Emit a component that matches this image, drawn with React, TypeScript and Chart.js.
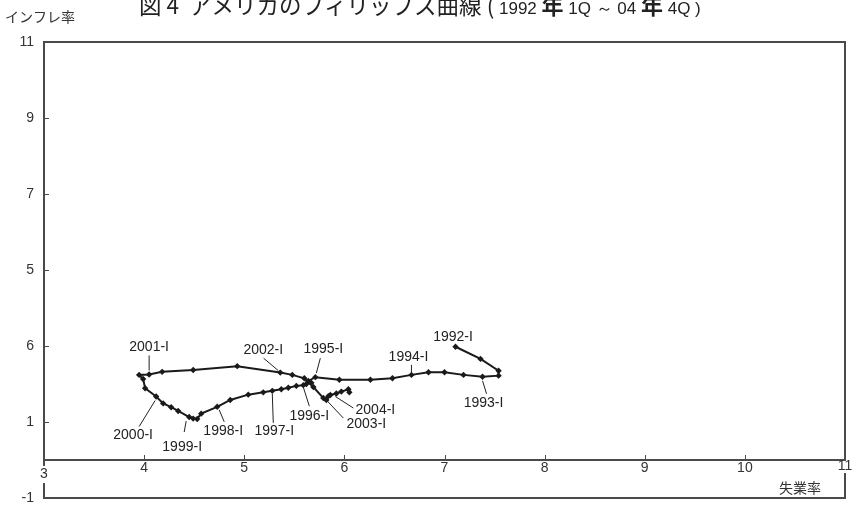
import React, { useEffect, useRef } from "react";
import { Chart, registerables } from "chart.js";

Chart.register(...registerables);

// ---- data ----
const years = [1992, 1993, 1994, 1995, 1996, 1997, 1998, 1999, 2000, 2001, 2002, 2003, 2004];
const quarterNames = ["I", "II", "III", "IV"];

const unemployment = [
  7.11, 7.36, 7.54, 7.54,
  7.38, 7.19, 7.0, 6.84,
  6.67, 6.48, 6.26, 5.95,
  5.71, 5.64, 5.67, 5.62,
  5.59, 5.52, 5.44, 5.37,
  5.28, 5.19, 5.04, 4.86,
  4.73, 4.57, 4.53, 4.49,
  4.45, 4.34, 4.27, 4.19,
  4.12, 4.01, 3.99, 3.95,
  4.05, 4.18, 4.49, 4.93,
  5.36, 5.48, 5.6, 5.69,
  5.79, 5.82, 5.84, 5.86,
  5.92, 5.97, 6.04, 6.05,
];

const inflation = [
  2.98, 2.66, 2.35, 2.22,
  2.19, 2.24, 2.31, 2.31,
  2.24, 2.15, 2.11, 2.11,
  2.18, 2.08, 2.03, 2.0,
  1.97, 1.95, 1.9, 1.86,
  1.82, 1.78, 1.72, 1.58,
  1.4, 1.22, 1.08, 1.09,
  1.13, 1.29, 1.39, 1.49,
  1.67, 1.89, 2.13, 2.24,
  2.25, 2.32, 2.37, 2.47,
  2.3, 2.24, 2.15, 1.92,
  1.63, 1.58, 1.68, 1.71,
  1.75, 1.8, 1.86, 1.78,
];

const xTickValues = [3, 4, 5, 6, 7, 8, 9, 10, 11];
const xTickLabels = ["3", "4", "5", "6", "7", "8", "9", "10", "11"];
const yTickValues = [11, 9, 7, 5, 3, 1, -1];
const yTickLabels = ["11", "9", "7", "5", "6", "1", "-1"];

const labelledQuarters = [
  "1992-I", "1993-I", "1994-I", "1995-I", "1996-I", "1997-I", "1998-I",
  "1999-I", "2000-I", "2001-I", "2002-I", "2003-I", "2004-I",
];

// title pieces: [text, kind]
const titleParts: [string, string][] = [
  ["図 4  アメリカのフィリップス曲線 (", "cjk"],
  [" 1992 ", "latin"],
  ["年", "bold"],
  [" 1Q ～ 04 ", "latin"],
  ["年", "bold"],
  [" 4Q )", "latin"],
];
const yAxisTitle = "インフレ率";
const xAxisTitle = "失業率";

// ---- styles: label placement relative to its point (pixels) ----
const labelStyle: Record<string, { t: [number, number]; l?: [number, number, number, number] }> = {
  "1992-I": { t: [-2.5, -10] },
  "1993-I": { t: [1, 26], l: [0, 4, 4, 17] },
  "1994-I": { t: [-3, -17.5], l: [0, -10, 0, -2] },
  "1995-I": { t: [8, -28], l: [5, -19, 1, -4] },
  "1996-I": { t: [6, 31], l: [0, 2, 6, 21] },
  "1997-I": { t: [2, 40], l: [0, 3, 1, 32] },
  "1998-I": { t: [6, 24], l: [2, 3, 7, 15] },
  "1999-I": { t: [-7, 30.5], l: [-3, 4, -5, 15] },
  "2000-I": { t: [-23, 39], l: [-1, 4, -17, 30] },
  "2001-I": { t: [0, -27], l: [0, -19, 0, -4] },
  "2002-I": { t: [-17, -22.7], l: [-16.7, -14.4, -2, -2] },
  "2003-I": { t: [43, 26], l: [20, 20, 3, 2] },
  "2004-I": { t: [39, 16.5], l: [17, 14.5, -1, 3] },
};

const LATIN = '"Liberation Sans", Arial, sans-serif';
const CJK = '"Noto Sans CJK JP", sans-serif';

const quarters: string[] = [];
years.forEach((y) => quarterNames.forEach((q) => quarters.push(`${y}-${q}`)));

const framePlugin = {
  id: "frame",
  beforeDatasetsDraw(chart: any) {
    const { ctx, chartArea: a, scales } = chart;
    const xs = scales.x;
    const ys = scales.y;
    ctx.save();
    ctx.strokeStyle = "#4a4a4a";
    ctx.lineWidth = 2;
    ctx.strokeRect(a.left, a.top, a.right - a.left, a.bottom - a.top);
    const y0 = ys.getPixelForValue(0);
    ctx.beginPath();
    ctx.moveTo(a.left, y0);
    ctx.lineTo(a.right, y0);
    ctx.stroke();
    ctx.lineWidth = 1;
    ctx.beginPath();
    xTickValues.forEach((v) => {
      const px = Math.round(xs.getPixelForValue(v)) + 0.5;
      ctx.moveTo(px, y0);
      ctx.lineTo(px, y0 - 5);
    });
    yTickValues.forEach((v) => {
      const py = Math.round(ys.getPixelForValue(v)) + 0.5;
      ctx.moveTo(a.left, py);
      ctx.lineTo(a.left + 5, py);
    });
    ctx.stroke();

    ctx.fillStyle = "#333";
    ctx.font = `14px ${LATIN}`;
    ctx.textAlign = "right";
    ctx.textBaseline = "middle";
    yTickValues.forEach((v, i) => {
      ctx.fillText(yTickLabels[i], a.left - 10, ys.getPixelForValue(v));
    });
    ctx.textAlign = "center";
    xTickValues.forEach((v, i) => {
      const px = xs.getPixelForValue(v);
      const w = ctx.measureText(xTickLabels[i]).width;
      const first = i === 0;
      const last = i === xTickValues.length - 1;
      const ty = first ? y0 + 14 : last ? y0 + 6 : y0 + 8;
      if (first || last) {
        ctx.fillStyle = "#fff";
        ctx.fillRect(px - w / 2 - 1, first ? y0 + 6 : y0 + 1, w + 2, first ? 17 : 12);
        ctx.fillStyle = "#333";
      }
      ctx.fillText(xTickLabels[i], px, ty);
    });

    ctx.font = `14px ${CJK}`;
    ctx.textAlign = "left";
    ctx.fillText(yAxisTitle, 5, 17);
    ctx.textAlign = "center";
    ctx.fillText(xAxisTitle, 800, 488);

    ctx.textAlign = "left";
    ctx.textBaseline = "alphabetic";
    ctx.fillStyle = "#222";
    let tx = 139;
    titleParts.forEach(([text, kind]) => {
      ctx.font =
        kind === "latin" ? `17px ${LATIN}` : kind === "bold" ? `bold 22px ${CJK}` : `22.5px ${CJK}`;
      ctx.fillText(text, tx, 14);
      tx += ctx.measureText(text).width;
    });
    ctx.restore();
  },
  afterDatasetsDraw(chart: any) {
    const { ctx, scales } = chart;
    const xs = scales.x;
    const ys = scales.y;
    ctx.save();
    ctx.font = `14px ${LATIN}`;
    ctx.fillStyle = "#222";
    ctx.strokeStyle = "#222";
    ctx.lineWidth = 1;
    ctx.textAlign = "center";
    ctx.textBaseline = "middle";
    labelledQuarters.forEach((q) => {
      const i = quarters.indexOf(q);
      if (i < 0) return;
      const px = xs.getPixelForValue(unemployment[i]);
      const py = ys.getPixelForValue(inflation[i]);
      const s = labelStyle[q];
      if (s.l) {
        ctx.beginPath();
        ctx.moveTo(px + s.l[0], py + s.l[1]);
        ctx.lineTo(px + s.l[2], py + s.l[3]);
        ctx.stroke();
      }
      ctx.fillText(q, px + s.t[0], py + s.t[1]);
    });
    ctx.restore();
  },
};

export default function App() {
  const ref = useRef<HTMLCanvasElement | null>(null);
  useEffect(() => {
    if (!ref.current) return;
    const chart = new Chart(ref.current, {
      type: "scatter",
      data: {
        datasets: [
          {
            label: "US",
            data: unemployment.map((u, i) => ({ x: u, y: inflation[i] })),
            showLine: true,
            borderColor: "#1a1a1a",
            borderWidth: 2,
            pointStyle: "rectRot",
            pointRadius: 3.2,
            pointBackgroundColor: "#1a1a1a",
            pointBorderColor: "#1a1a1a",
            pointBorderWidth: 0,
            tension: 0,
          },
        ],
      },
      options: {
        responsive: false,
        animation: false,
        layout: { padding: { left: 44, right: 10, top: 42, bottom: 9 } },
        plugins: { legend: { display: false }, tooltip: { enabled: false }, title: { display: false } },
        scales: {
          x: { type: "linear", min: 3, max: 11, display: false },
          y: { type: "linear", min: -1, max: 11, display: false },
        },
      },
      plugins: [framePlugin],
    });
    return () => chart.destroy();
  }, []);
  return (
    <div style={{ position: "absolute", left: 0, top: 0, width: 855, height: 507, background: "#fff" }}>
      <canvas ref={ref} width={855} height={507} style={{ display: "block" }} />
    </div>
  );
}
